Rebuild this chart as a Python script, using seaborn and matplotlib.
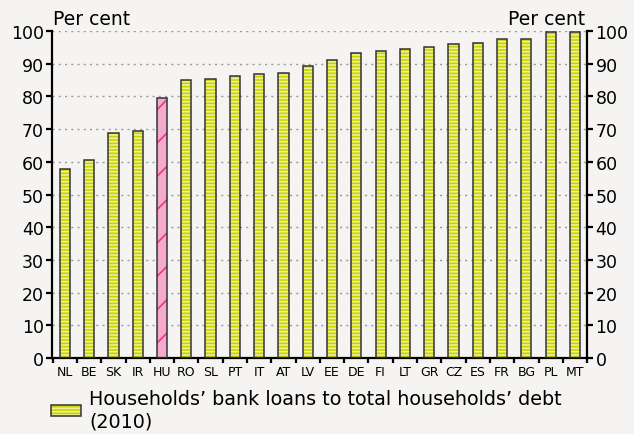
import numpy as np
import matplotlib
matplotlib.use("Agg")
import matplotlib.pyplot as plt
import seaborn as sns
import pandas as pd
from matplotlib.patches import Rectangle

# data
countries = ["NL", "BE", "SK", "IR", "HU", "RO", "SL", "PT", "IT", "AT", "LV",
             "EE", "DE", "FI", "LT", "GR", "CZ", "ES", "FR", "BG", "PL", "MT"]
loan_share = [57.8, 60.5, 68.7, 69.4, 79.5, 85.0, 85.2, 86.2, 86.9, 87.3, 89.2,
              91.1, 93.3, 94.0, 94.6, 95.0, 95.9, 96.4, 97.5, 97.7, 99.7, 99.7]
highlight = "HU"
legend_label = "Households\u2019 bank loans to total households\u2019 debt\n(2010)"

bg = "#F5F4F2"
stripe_dark = "#C9D300"
stripe_light = "#EDF19A"
outline = "#333333"

sns.set_style("white")
plt.rcParams["font.family"] = ["DejaVu Sans"]
plt.rcParams["hatch.linewidth"] = 1.2
plt.rcParams["text.color"] = "black"
plt.rcParams["xtick.color"] = "black"
plt.rcParams["ytick.color"] = "black"

df = pd.DataFrame({"country": countries, "value": loan_share})

fig = plt.figure(figsize=(6.34, 4.35), dpi=100, facecolor=bg)
ax = fig.add_axes([0.082, 0.1747, 0.844, 0.7517])
ax.set_facecolor(bg)

# striped fill
sns.barplot(data=df, x="country", y="value", ax=ax, width=0.42,
            color=stripe_dark, edgecolor=stripe_light, linewidth=0, saturation=1)
for p, c in zip(list(ax.patches), countries):
    if c == highlight:
        p.set_facecolor("#F5A9CB")
        p.set_edgecolor("#E8388A")
        p.set_hatch("/")
    else:
        p.set_hatch("-----")
    p.set_zorder(2)
    # outline on top
    ax.add_patch(Rectangle(p.get_xy(), p.get_width(), p.get_height(),
                           fill=False, edgecolor=outline, linewidth=1.1, zorder=3))

ax.set_ylim(0, 100)
ax.set_xlim(-0.53, 21.45)
ax.set_yticks(np.arange(0, 101, 10))
ax.yaxis.grid(True, linestyle=(0, (1.5, 3)), color="#9A9A9A", linewidth=1.0)
ax.set_axisbelow(True)

ax.spines["top"].set_visible(False)
for s in ["left", "right", "bottom"]:
    ax.spines[s].set_color("black")
    ax.spines[s].set_linewidth(1.6)

ax.tick_params(axis="y", labelsize=12.5, length=4, width=1.6, direction="out",
               left=True, right=True, labelleft=True, labelright=True, pad=2,
               labelcolor="black")
ax.tick_params(axis="x", which="major", labelsize=9, length=0, pad=5, labelcolor="black")
ax.set_xticks(np.arange(-0.5, len(countries), 1), minor=True)
ax.tick_params(axis="x", which="minor", length=3.5, width=1.6, direction="out", bottom=True)
ax.set_xlabel("")
ax.set_ylabel("")

fig.text(0.084, 0.9425, "Per cent", fontsize=13.5, ha="left", va="baseline", color="black")
fig.text(0.923, 0.9425, "Per cent", fontsize=13.5, ha="right", va="baseline", color="black")

# legend: striped patch with outline on top
leg_fill = Rectangle((0, 0), 1, 1, facecolor=stripe_dark, edgecolor=stripe_light,
                     hatch="-----", linewidth=0)
leg_edge = Rectangle((0, 0), 1, 1, fill=False, edgecolor=outline, linewidth=1.1)
leg = fig.legend([(leg_fill, leg_edge)], [legend_label], loc="upper left",
                 bbox_to_anchor=(0.080, 0.103), frameon=False, fontsize=13.8,
                 handlelength=1.6, handleheight=0.55, handletextpad=0.4,
                 borderaxespad=0, borderpad=0, labelspacing=0)
for t in leg.get_texts():
    t.set_color("black")

fig.savefig("out.png", dpi=100, facecolor=bg)
